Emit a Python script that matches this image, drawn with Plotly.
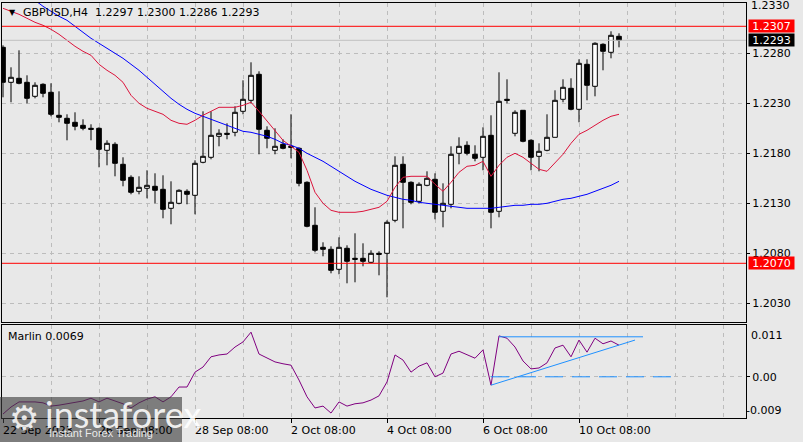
import plotly.graph_objects as go

# ---------------- data ----------------
bars = list(range(78))

opens = [1.2286, 1.2251, 1.2255, 1.2251, 1.2237, 1.2249, 1.2241, 1.2218, 1.2215, 1.2211,
         1.2208, 1.2205, 1.2205, 1.2183, 1.2189, 1.2169, 1.2156, 1.2142, 1.2145, 1.2147,
         1.2144, 1.2125, 1.2130, 1.2142, 1.2138, 1.2171, 1.2176, 1.2197, 1.2200, 1.2201,
         1.2222, 1.2233, 1.2259, 1.2203, 1.2183, 1.2189, 1.2187, 1.2185, 1.2151, 1.2108,
         1.2086, 1.2084, 1.2064, 1.2085, 1.2075, 1.2075, 1.2071, 1.2080, 1.2080, 1.2113,
         1.2169, 1.2151, 1.2132, 1.2148, 1.2154, 1.2122, 1.2129, 1.2180, 1.2188, 1.2179,
         1.2176, 1.2198, 1.2122, 1.2234, 1.2200, 1.2223, 1.2193, 1.2177, 1.2183, 1.2196,
         1.2234, 1.2245, 1.2224, 1.2269, 1.2247, 1.2289, 1.2281, 1.2297]
highs = [1.2288, 1.2266, 1.2283, 1.2258, 1.2251, 1.2250, 1.2250, 1.2242, 1.2219, 1.2221,
         1.2214, 1.2209, 1.2206, 1.2193, 1.2191, 1.2176, 1.2158, 1.2157, 1.2163, 1.2160,
         1.2158, 1.2152, 1.2144, 1.2144, 1.2173, 1.2222, 1.2222, 1.2204, 1.2210, 1.2227,
         1.2253, 1.2271, 1.2262, 1.2207, 1.2205, 1.2194, 1.2219, 1.2186, 1.2152, 1.2126,
         1.2091, 1.2087, 1.2096, 1.2088, 1.2100, 1.2090, 1.2083, 1.2082, 1.2113, 1.2177,
         1.2177, 1.2152, 1.2151, 1.2162, 1.2160, 1.2150, 1.2187, 1.2196, 1.2192, 1.2188,
         1.2206, 1.2218, 1.2261, 1.2254, 1.2223, 1.2223, 1.2194, 1.2190, 1.2219, 1.2243,
         1.2254, 1.2255, 1.2274, 1.2274, 1.2291, 1.2290, 1.2302, 1.2300]
lows = [1.2236, 1.2231, 1.2249, 1.2230, 1.2235, 1.2236, 1.2217, 1.2211, 1.2193, 1.2203,
        1.2203, 1.2193, 1.2166, 1.2168, 1.2157, 1.2147, 1.2139, 1.2139, 1.2135, 1.2130,
        1.2115, 1.2109, 1.2129, 1.2129, 1.2119, 1.2170, 1.2174, 1.2187, 1.2194, 1.2197,
        1.2219, 1.2230, 1.2179, 1.2185, 1.2179, 1.2184, 1.2175, 1.2147, 1.2106, 1.2081,
        1.2077, 1.2060, 1.2059, 1.2050, 1.2051, 1.2067, 1.2070, 1.2058, 1.2036, 1.2111,
        1.2105, 1.2129, 1.2130, 1.2147, 1.2114, 1.2106, 1.2125, 1.2169, 1.2178, 1.2172,
        1.2163, 1.2105, 1.2116, 1.2230, 1.2197, 1.2191, 1.2163, 1.2162, 1.2182, 1.2196,
        1.2231, 1.2223, 1.2211, 1.2233, 1.2237, 1.2263, 1.2275, 1.2286]
closes = [1.2251, 1.2256, 1.2250, 1.2235, 1.2248, 1.2240, 1.2219, 1.2216, 1.2210, 1.2207,
          1.2205, 1.2204, 1.2184, 1.2190, 1.2170, 1.2153, 1.2141, 1.2146, 1.2148, 1.2143,
          1.2124, 1.2131, 1.2143, 1.2139, 1.2170, 1.2177, 1.2198, 1.2200, 1.2199, 1.2221,
          1.2234, 1.2258, 1.2204, 1.2195, 1.2187, 1.2185, 1.2186, 1.2150, 1.2107, 1.2083,
          1.2084, 1.2063, 1.2086, 1.2072, 1.2074, 1.2072, 1.2080, 1.2079, 1.2111, 1.2168,
          1.2151, 1.2131, 1.2149, 1.2155, 1.2121, 1.2130, 1.2179, 1.2187, 1.2180, 1.2175,
          1.2197, 1.2121, 1.2232, 1.2233, 1.2221, 1.2192, 1.2176, 1.2182, 1.2196, 1.2233,
          1.2246, 1.2224, 1.2270, 1.2248, 1.2290, 1.2282, 1.2298, 1.2293]

ma_red = [1.2325, 1.2322, 1.2319, 1.2315, 1.2311, 1.2308, 1.2304, 1.2299, 1.2293, 1.2287,
          1.2282, 1.2278, 1.2269, 1.2263, 1.2258, 1.2251, 1.2238, 1.2230, 1.2225, 1.2222,
          1.2219, 1.2213, 1.2210, 1.2209, 1.2213, 1.2218, 1.2222, 1.2226, 1.2226, 1.2226,
          1.2228, 1.2231, 1.2222, 1.2212, 1.2202, 1.2193, 1.2187, 1.2181, 1.2163, 1.2141,
          1.2130, 1.2123, 1.2121, 1.2121, 1.2121, 1.2122, 1.2124, 1.2126, 1.2132, 1.2146,
          1.2156, 1.2157, 1.2157, 1.2157, 1.2149, 1.2142, 1.2151, 1.2161, 1.2167, 1.2168,
          1.2172, 1.2157, 1.2168, 1.2176, 1.2180, 1.2176, 1.2170, 1.2164, 1.2162, 1.2170,
          1.2179, 1.2190, 1.2199, 1.2203, 1.2208, 1.2213, 1.2217, 1.2219]
ma_blue = [1.2351, 1.2346, 1.2341, 1.2337, 1.2333, 1.2327, 1.2322, 1.2317, 1.2313, 1.2307,
           1.2301, 1.2295, 1.2290, 1.2285, 1.2280, 1.2275, 1.2269, 1.2263, 1.2256, 1.2249,
           1.2242, 1.2235, 1.2229, 1.2224, 1.2220, 1.2217, 1.2214, 1.2211, 1.2208, 1.2205,
           1.2202, 1.2201, 1.2199, 1.2197, 1.2194, 1.2190, 1.2188, 1.2185, 1.2180, 1.2176,
           1.2172, 1.2167, 1.2162, 1.2157, 1.2152, 1.2148, 1.2144, 1.2141, 1.2138, 1.2136,
           1.2134, 1.2133, 1.2131, 1.2130, 1.2129, 1.2128, 1.2127, 1.2126, 1.2125, 1.2125,
           1.2125, 1.2125, 1.2126, 1.2127, 1.2128, 1.2128, 1.2129, 1.2129, 1.2130, 1.2132,
           1.2134, 1.2135, 1.2137, 1.2139, 1.2142, 1.2145, 1.2148, 1.2152]

marlin = [-0.0080, -0.0065, -0.0054, -0.0054, -0.0054, -0.0056, -0.0063, -0.0061, -0.0058, -0.0056,
          -0.0052, -0.0046, -0.0054, -0.0046, -0.0052, -0.0058, -0.0067, -0.0056, -0.0048, -0.0043,
          -0.0054, -0.0043, -0.0022, -0.0022, 0.0010, 0.0021, 0.0043, 0.0047, 0.0049, 0.0064,
          0.0075, 0.0096, 0.0049, 0.0040, 0.0032, 0.0028, 0.0025, -0.0007, -0.0043, -0.0067,
          -0.0063, -0.0078, -0.0054, -0.0063, -0.0058, -0.0056, -0.0050, -0.0041, -0.0011, 0.0047,
          0.0036, 0.0010, 0.0023, 0.0030, 0.0000, 0.0008, 0.0049, 0.0055, 0.0047, 0.0040,
          0.0058, -0.0018, 0.0088, 0.0083, 0.0064, 0.0034, 0.0017, 0.0019, 0.0030, 0.0062,
          0.0068, 0.0043, 0.0079, 0.0053, 0.0083, 0.0071, 0.0077, 0.0068]

price_ticks = [1.2030, 1.2080, 1.2130, 1.2180, 1.2230, 1.2280, 1.2330]
time_label_bars = [0, 12, 24, 36, 48, 60, 72]
time_labels = ["22 Sep 2023", "26 Sep 08:00", "28 Sep 08:00", "2 Oct 08:00",
               "4 Oct 08:00", "6 Oct 08:00", "10 Oct 08:00"]

resistance = 1.2307
support = 1.2070
bid = 1.2293
title_text = "GBPUSD,H4  1.2297 1.2300 1.2286 1.2293"
marlin_text = "Marlin 0.0069"
osc_max_label = "0.011"
osc_min_label = "-0.009"

# trendlines drawn on the oscillator (bar index, value)
tl_top_x, tl_top_y = [62.0, 80.0], [0.0086, 0.0086]
tl_rise_x, tl_rise_y = [61.0, 79.0], [-0.0018, 0.0079]
tl_zero_x, tl_zero_y = [61.0, 84.2], [0.0, 0.0]

# ---------------- layout helpers ----------------
W, H = 803, 442
L_PX, R_PX, T_PX, B_PX = 2, 746, 3, 418
def pxx(x):
    return (x - L_PX) / (R_PX - L_PX)
def pxy(y):
    return (B_PX - y) / (B_PX - T_PX)

FONT = "DejaVu Sans"
BG = "#e8e8e8"
GRID = "#bcbcbc"

fig = go.Figure()

fig.add_trace(go.Candlestick(
    x=bars, open=opens, high=highs, low=lows, close=closes,
    increasing=dict(line=dict(color="black", width=1), fillcolor="white"),
    decreasing=dict(line=dict(color="black", width=1), fillcolor="black"),
    whiskerwidth=0, xaxis="x", yaxis="y", hoverinfo="skip"))

fig.add_trace(go.Scatter(x=bars, y=ma_blue, mode="lines",
                         line=dict(color="#0000ff", width=1), xaxis="x", yaxis="y"))
fig.add_trace(go.Scatter(x=bars, y=ma_red, mode="lines",
                         line=dict(color="#dc143c", width=1), xaxis="x", yaxis="y"))

fig.add_trace(go.Scatter(x=bars, y=marlin, mode="lines",
                         line=dict(color="#800080", width=1), xaxis="x2", yaxis="y2"))
fig.add_trace(go.Scatter(x=tl_zero_x, y=tl_zero_y, mode="lines",
                         line=dict(color="#1e90ff", width=1, dash="18px,9px"), xaxis="x2", yaxis="y2"))
fig.add_trace(go.Scatter(x=tl_top_x, y=tl_top_y, mode="lines",
                         line=dict(color="#1e90ff", width=1), xaxis="x2", yaxis="y2"))
fig.add_trace(go.Scatter(x=tl_rise_x, y=tl_rise_y, mode="lines",
                         line=dict(color="#1e90ff", width=1), xaxis="x2", yaxis="y2"))

x0 = -(3 - L_PX) / 8.0
x1 = x0 + (R_PX - L_PX) / 8.0
grid_bars = list(range(0, 93, 6))

main_bottom = pxy(322)
osc_top = pxy(325)
y_top = 1.23333 - 3 / 10000.0
y_bot = 1.23333 - 322 / 10000.0
o_top = (376.8 - 325) / 4650.0
o_bot = (376.8 - 418) / 4650.0

axis_common = dict(showline=True, mirror=True, linecolor="black", linewidth=1,
                   zeroline=False, automargin=False,
                   tickfont=dict(family=FONT, size=11, color="black"))

fig.update_layout(
    width=W, height=H, autosize=False,
    margin=dict(l=L_PX, r=W - R_PX, t=T_PX, b=H - B_PX, pad=0),
    paper_bgcolor=BG, plot_bgcolor=BG, showlegend=False,
    boxgap=0.42, boxgroupgap=0,
    xaxis=dict(domain=[0, 1], anchor="y", range=[x0, x1], tickvals=grid_bars,
               showticklabels=False, ticks="", showgrid=True, gridcolor=GRID,
               griddash="4px,4px", gridwidth=1, rangeslider=dict(visible=False),
               **axis_common),
    yaxis=dict(domain=[main_bottom, 1], anchor="x", range=[y_bot, y_top], side="right",
               tickvals=price_ticks[:-1], ticktext=["%.4f" % v for v in price_ticks[:-1]],
               ticks="outside", ticklen=3, tickcolor="black", showgrid=True,
               gridcolor=GRID, griddash="4px,4px", gridwidth=1, **axis_common),
    xaxis2=dict(domain=[0, 1], anchor="y2", range=[x0, x1], matches="x",
                tickvals=time_label_bars, showticklabels=False, ticks="outside",
                ticklen=4, tickcolor="black", showgrid=True, gridcolor=GRID,
                griddash="4px,4px",
                minor=dict(tickvals=grid_bars, showgrid=True, gridcolor=GRID,
                           griddash="4px,4px", ticks=""),
                **axis_common),
    yaxis2=dict(domain=[0, osc_top], anchor="x2", range=[o_bot, o_top], side="right",
                tickvals=[0.0], ticktext=["0.00"], ticks="outside", ticklen=3,
                tickcolor="black", showgrid=True, gridcolor=GRID,
                griddash="4px,4px", **axis_common),
)

shapes = []
# horizontal levels
for lvl, col in [(bid, "#c0c0c0"), (resistance, "#ff0000"), (support, "#ff0000")]:
    shapes.append(dict(type="line", xref="x domain", yref="y", x0=0, x1=1, y0=lvl, y1=lvl,
                       line=dict(color=col, width=1), layer="above"))
# watermark box
shapes.append(dict(type="rect", xref="paper", yref="paper",
                   x0=pxx(0), x1=pxx(182), y0=pxy(442), y1=pxy(397),
                   fillcolor="rgba(60,60,60,0.62)", line=dict(width=0), layer="above"))
fig.update_layout(shapes=shapes)

ann = []
# top price label (upper edge of the price scale)
ann.append(dict(xref="paper", yref="paper", x=pxx(749), y=pxy(5), xanchor="left", yanchor="middle",
                text="%.4f" % price_ticks[-1], showarrow=False,
                font=dict(family=FONT, size=11, color="black")))
ann.append(dict(xref="paper", yref="paper", x=pxx(7), y=pxy(13), xanchor="left", yanchor="middle",
                text="▼", showarrow=False, font=dict(family=FONT, size=8, color="black")))
ann.append(dict(xref="paper", yref="paper", x=pxx(21), y=pxy(13), xanchor="left", yanchor="middle",
                text=title_text, showarrow=False, font=dict(family=FONT, size=11, color="black")))
ann.append(dict(xref="paper", yref="paper", x=pxx(6), y=pxy(336), xanchor="left", yanchor="middle",
                text=marlin_text, showarrow=False, font=dict(family=FONT, size=11, color="black")))
for k, t in zip(time_label_bars, time_labels):
    ann.append(dict(xref="x2", yref="paper", x=k, y=pxy(430), xanchor="left", yanchor="middle",
                    xshift=-2, text=t, showarrow=False,
                    font=dict(family=FONT, size=11, color="black")))
# oscillator max / min labels
ann.append(dict(xref="paper", yref="paper", x=pxx(749), y=pxy(335), xanchor="left", yanchor="middle",
                text=osc_max_label, showarrow=False, font=dict(family=FONT, size=11, color="black")))
ann.append(dict(xref="paper", yref="paper", x=pxx(744), y=pxy(410), xanchor="left", yanchor="middle",
                text=osc_min_label, showarrow=False, font=dict(family=FONT, size=11, color="black")))
# price boxes
for lvl, bgc in [(resistance, "#ff0000"), (bid, "#000000"), (support, "#ff0000")]:
    ann.append(dict(xref="paper", yref="y", x=pxx(748), y=lvl, xanchor="left", yanchor="middle",
                    text="%.4f" % lvl, showarrow=False, bgcolor=bgc, width=45, height=12,
                    borderpad=0, align="center",
                    font=dict(family=FONT, size=11, color="white")))
# watermark texts
ann.append(dict(xref="paper", yref="paper", x=pxx(24), y=pxy(418), xanchor="center", yanchor="middle",
                text="⚙", showarrow=False, font=dict(family=FONT, size=34, color="rgba(255,255,255,0.85)")))
ann.append(dict(xref="paper", yref="paper", x=pxx(43), y=pxy(414), xanchor="left", yanchor="middle",
                text="instaforex", showarrow=False, font=dict(family="Lato", size=36, color="rgba(255,255,255,0.9)")))
ann.append(dict(xref="paper", yref="paper", x=pxx(47), y=pxy(433), xanchor="left", yanchor="middle",
                text="Instant Forex Trading", showarrow=False, font=dict(family="Liberation Sans", size=11, color="rgba(255,255,255,0.85)")))
fig.update_layout(annotations=ann)

fig.write_html("out.html", config={"displayModeBar": False, "staticPlot": True},
               post_script="document.body.style.margin='0';document.body.style.padding='0';"
                           "document.body.style.overflow='hidden';")
